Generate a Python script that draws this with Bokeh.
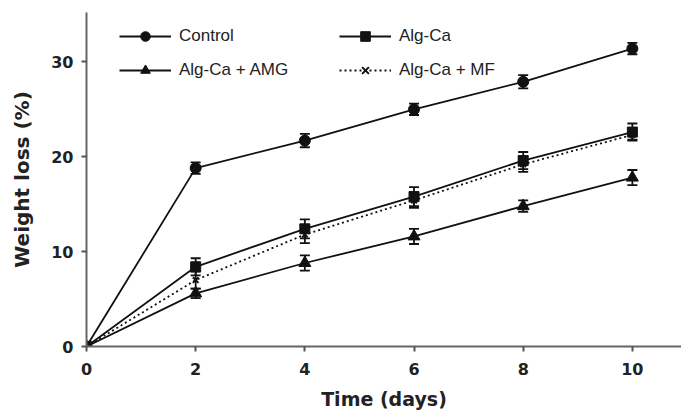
from bokeh.plotting import figure
from bokeh.models import ColumnDataSource, Whisker, TeeHead, Legend, LegendItem, Range1d, FixedTicker
from bokeh.embed import file_html
from bokeh.resources import INLINE

days = [0, 2, 4, 6, 8, 10]
control = [0, 18.8, 21.7, 25.0, 27.9, 31.4]
control_err = [0, 0.6, 0.7, 0.6, 0.7, 0.6]
algca = [0, 8.4, 12.4, 15.8, 19.6, 22.6]
algca_err = [0, 0.9, 1.0, 1.0, 0.9, 0.9]
amg = [0, 5.6, 8.8, 11.6, 14.8, 17.8]
amg_err = [0, 0.5, 0.8, 0.8, 0.6, 0.8]
mf = [0, 7.0, 11.8, 15.4, 19.2, 22.3]
mf_err = [0, 0.9, 0.9, 0.8, 0.8, 0.5]
names = ["Control", "Alg-Ca", "Alg-Ca + AMG", "Alg-Ca + MF"]

FONT = "DejaVu Sans"
LFONT = "Liberation Sans"

p = figure(width=681, height=417, output_backend="svg", toolbar_location=None,
           x_range=Range1d(0, 10.9), y_range=Range1d(0, 35.2),
           min_border_left=86, min_border_right=0, min_border_top=12, min_border_bottom=71)
p.outline_line_color = None
p.grid.visible = False
p.background_fill_color = "white"

series = [
    (control, control_err, "solid", "circle", 11),
    (algca, algca_err, "solid", "square", 10),
    (amg, amg_err, "solid", "triangle", 12),
    (mf, mf_err, "2 3", "x", 8),
]
renderers = []
for vals, errs, dash, marker, size in series:
    src = ColumnDataSource(dict(x=days, y=vals,
                                lo=[v - e for v, e in zip(vals, errs)],
                                hi=[v + e for v, e in zip(vals, errs)]))
    ln = p.line("x", "y", source=src, line_color="#111111", line_width=1.8, line_dash=dash)
    mk = p.scatter("x", "y", source=src, marker=marker, size=size, fill_color="#111111",
                   line_color="#111111", line_width=2 if marker == "x" else 1)
    w = Whisker(base="x", lower="lo", upper="hi", source=src, line_color="#111111", line_width=1.8,
                upper_head=TeeHead(size=10, line_color="#111111", line_width=1.8),
                lower_head=TeeHead(size=10, line_color="#111111", line_width=1.8))
    p.add_layout(w)
    renderers.append([ln, mk])

# column-major fill: column 1 = Control, Alg-Ca + AMG; column 2 = Alg-Ca, Alg-Ca + MF
order = [0, 2, 1, 3]
items = [LegendItem(label=names[i], renderers=renderers[i]) for i in order]
legend = Legend(items=items, ncols=2, location=(33, 264), glyph_width=52, glyph_height=24,
                label_height=24, label_width=150, label_standoff=8, spacing=10, padding=0, margin=0,
                border_line_color=None, background_fill_alpha=0,
                label_text_font=LFONT, label_text_font_size="17px", label_text_color="#222222")
p.add_layout(legend)

for ax in (p.xaxis, p.yaxis):
    ax.axis_line_color = "#666666"
    ax.axis_line_width = 2
    ax.major_tick_line_color = "#555555"
    ax.major_tick_line_width = 2
    ax.major_tick_out = 5
    ax.major_tick_in = 0
    ax.minor_tick_line_color = None
    ax.major_label_text_font = FONT
    ax.major_label_text_font_style = "bold"
    ax.major_label_text_font_size = "16px"
    ax.major_label_text_color = "#222222"
    ax.axis_label_text_font = FONT
    ax.axis_label_text_font_style = "bold"
    ax.axis_label_text_color = "#222222"

p.xaxis.axis_label_text_font_size = "19px"
p.yaxis.axis_label_text_font_size = "20px"
p.xaxis.ticker = FixedTicker(ticks=[0, 2, 4, 6, 8, 10])
p.yaxis.ticker = FixedTicker(ticks=[0, 10, 20, 30])
p.xaxis.axis_label = "Time (days)"
p.yaxis.axis_label = "Weight loss (%)"
p.xaxis.major_label_standoff = 11
p.yaxis.major_label_standoff = 8
p.xaxis.axis_label_standoff = 10
p.yaxis.axis_label_standoff = 14

open("out.html", "w").write(file_html(p, INLINE))
